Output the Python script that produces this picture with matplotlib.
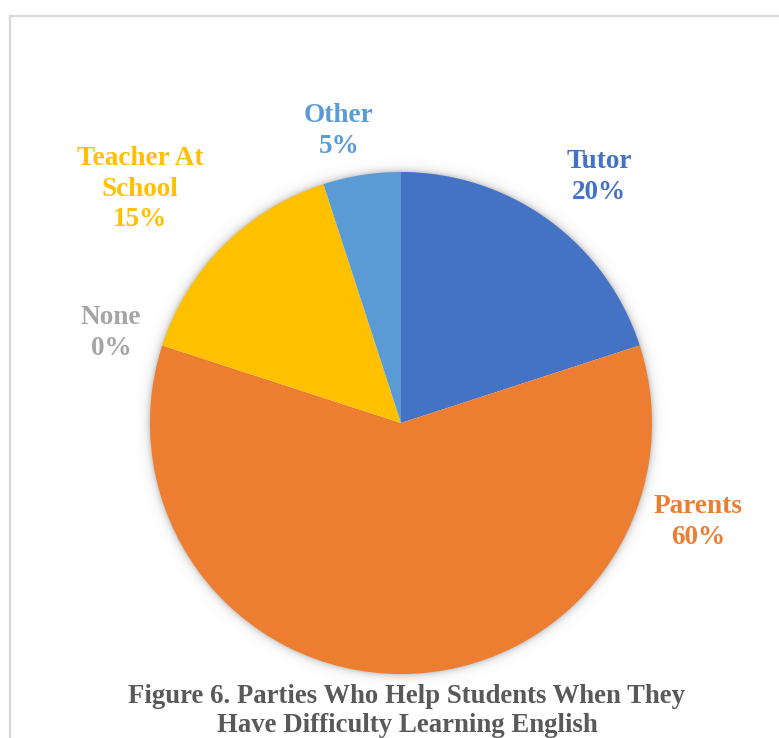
import numpy as np
import matplotlib
matplotlib.use("Agg")
import matplotlib.pyplot as plt
from matplotlib.patches import Rectangle

# Who students turn to when they have difficulty learning English
categories = ["Tutor", "Parents", "None", "Teacher At\nSchool", "Other"]
shares = [20, 60, 0, 15, 5]
colors = ["#4472C4", "#ED7D31", "#A5A5A5", "#FFC000", "#5B9BD5"]
title = "Figure 6. Parties Who Help Students When They\nHave Difficulty Learning English"

W, H = 779, 738
fig = plt.figure(figsize=(W / 100, H / 100), dpi=100)
ax = fig.add_axes([0, 0, 1, 1])

cx, cy, r = 401, H - 423, 251

# soft glow around the pie
yy, xx = np.mgrid[0:H, 0:W]
d = np.hypot(xx + 0.5 - cx, (H - yy - 0.5) - cy)
glow = np.clip(np.exp(-np.clip(d - r, 0, None) / 3.5), 0, 1) * 0.38
glow[d < r - 2] = 0
rgba = np.zeros((H, W, 4))
rgba[..., :3] = 0.45
rgba[..., 3] = glow
ax.imshow(rgba, extent=(0, W, 0, H), origin="upper", zorder=0, interpolation="bilinear")

ax.pie(shares, colors=colors, startangle=90, counterclock=False,
       center=(cx, cy), radius=r, wedgeprops=dict(linewidth=0),
       frame=False)
ax.set_xlim(0, W)
ax.set_ylim(0, H)
ax.set_aspect("equal")
ax.axis("off")

# outer frame of the chart area
ax.add_patch(Rectangle((10, -5), W + 20, H - 16 + 5, fill=False,
                       edgecolor="#D9D9D9", linewidth=1.6, zorder=1))

label_font = dict(family="Liberation Serif", fontweight="bold", fontsize=19.6)
label_pos = [(599, 177), (698, 522), (111, 333), (140, 189), (339, 131)]
for name, val, col, (lx, ly) in zip(categories, shares, colors, label_pos):
    ax.text(lx, H - ly, f"{name}\n{val}%", color=col, ha="center", va="center",
            linespacing=1.27, zorder=5, **label_font)

ax.text(407, H - 711, title, color="#595959", ha="center", va="center",
        linespacing=1.25, zorder=5, family="Liberation Serif",
        fontweight="bold", fontsize=19.3)

fig.savefig("out.png", dpi=100)
